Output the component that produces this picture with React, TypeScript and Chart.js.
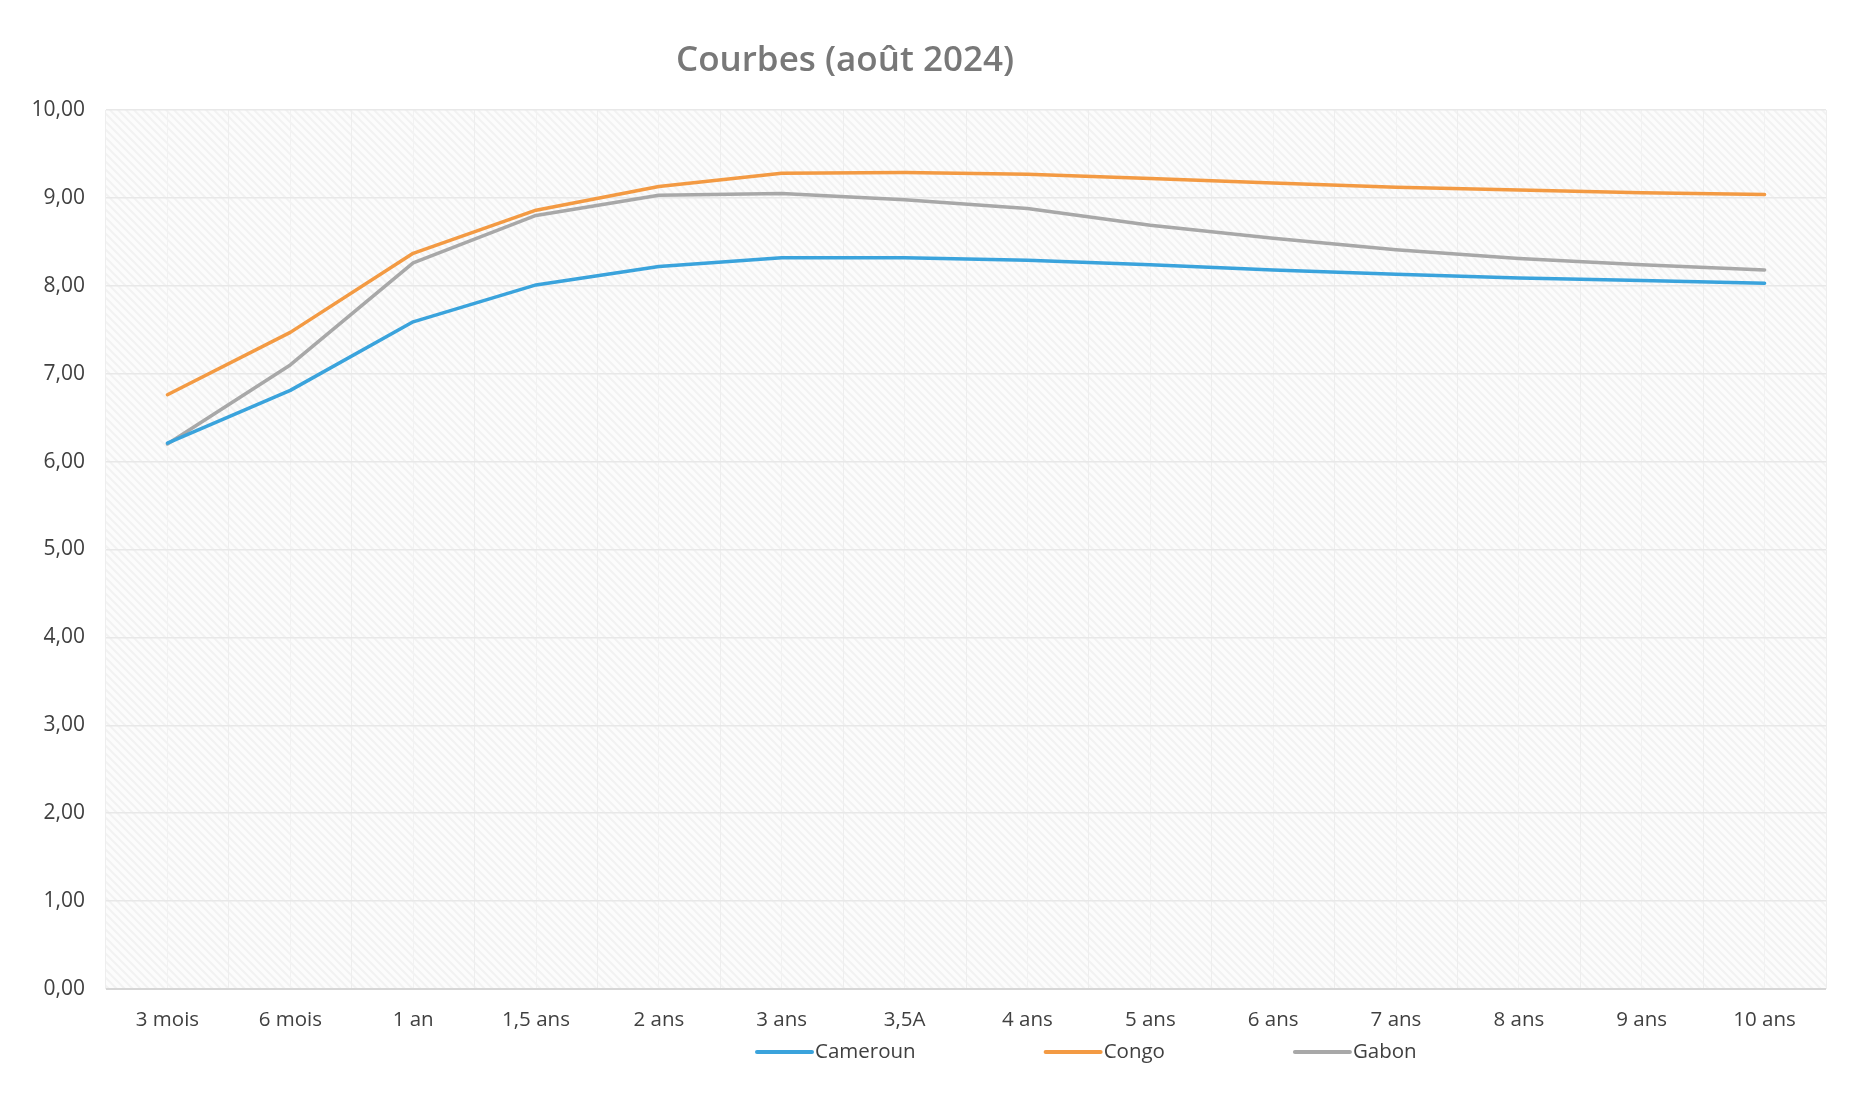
import { useEffect, useRef } from "react";
import { Chart, registerables } from "chart.js";

Chart.register(...registerables);

const categories = ["3 mois", "6 mois", "1 an", "1,5 ans", "2 ans", "3 ans", "3,5A", "4 ans", "5 ans", "6 ans", "7 ans", "8 ans", "9 ans", "10 ans"];
const cameroun = [6.21, 6.81, 7.59, 8.01, 8.22, 8.32, 8.32, 8.29, 8.24, 8.18, 8.13, 8.09, 8.06, 8.03];
const congo = [6.76, 7.47, 8.37, 8.86, 9.13, 9.28, 9.29, 9.27, 9.22, 9.17, 9.12, 9.09, 9.06, 9.04];
const gabon = [6.2, 7.1, 8.26, 8.8, 9.03, 9.05, 8.98, 8.88, 8.69, 8.54, 8.41, 8.31, 8.24, 8.18];
const seriesNames = ["Cameroun", "Congo", "Gabon"];
const seriesColors = ["#3aa3dc", "#f39a43", "#a8a8a8"];
const titleText = "Courbes (août 2024)";
const yMin = 0;
const yMax = 10;
const yStep = 1;

const FONT = "'Open Sans', 'Noto Sans', sans-serif";
const TEXT_COLOR = "#404040";

function makeHatch(): CanvasPattern | string {
  const p = document.createElement("canvas");
  p.width = 8;
  p.height = 8;
  const c = p.getContext("2d");
  if (!c) return "#f9f9f9";
  c.fillStyle = "#fcfcfc";
  c.fillRect(0, 0, 8, 8);
  c.strokeStyle = "#f2f2f2";
  c.lineWidth = 2;
  c.beginPath();
  c.moveTo(-1, -1);
  c.lineTo(9, 9);
  c.moveTo(-1, 7);
  c.lineTo(1, 9);
  c.moveTo(7, -1);
  c.lineTo(9, 1);
  c.stroke();
  const pat = c.createPattern(p, "repeat");
  return pat || "#f9f9f9";
}

const backgroundPlugin = {
  id: "plotBackground",
  beforeDraw(chart: any) {
    const { ctx, chartArea } = chart;
    ctx.save();
    ctx.fillStyle = "#ffffff";
    ctx.fillRect(0, 0, chart.width, chart.height);
    ctx.fillStyle = makeHatch();
    ctx.fillRect(chartArea.left, chartArea.top, chartArea.right - chartArea.left, chartArea.bottom - chartArea.top);
    ctx.restore();
  },
};

const titlePlugin = {
  id: "excelTitle",
  afterDraw(chart: any) {
    const { ctx } = chart;
    ctx.save();
    ctx.font = `600 35px ${FONT}`;
    ctx.fillStyle = "#787878";
    ctx.textAlign = "center";
    ctx.textBaseline = "middle";
    ctx.fillText(titleText, 845, 61);
    ctx.restore();
  },
};

const legendPlugin = {
  id: "excelLegend",
  afterDraw(chart: any) {
    const { ctx } = chart;
    ctx.save();
    ctx.font = `20.5px ${FONT}`;
    ctx.textAlign = "left";
    ctx.textBaseline = "middle";
    let x = 757;
    const y = 1052;
    chart.data.datasets.forEach((ds: any) => {
      ctx.strokeStyle = ds.borderColor;
      ctx.lineWidth = 4;
      ctx.lineCap = "round";
      ctx.beginPath();
      ctx.moveTo(x, y);
      ctx.lineTo(x + 55, y);
      ctx.stroke();
      ctx.fillStyle = TEXT_COLOR;
      ctx.fillText(ds.label, x + 58, y);
      x += 58 + ctx.measureText(ds.label).width + 130;
    });
    ctx.restore();
  },
};

export default function App() {
  const canvasRef = useRef<HTMLCanvasElement | null>(null);

  useEffect(() => {
    if (!canvasRef.current) return;
    const values = [cameroun, congo, gabon];
    const chart = new Chart(canvasRef.current, {
      type: "line",
      data: {
        labels: categories,
        datasets: values.map((v, i) => ({
          label: seriesNames[i],
          data: v,
          borderColor: seriesColors[i],
          backgroundColor: seriesColors[i],
          borderWidth: 3.5,
          pointRadius: 0,
          pointHoverRadius: 0,
          tension: 0,
          borderCapStyle: "round" as const,
          borderJoinStyle: "round" as const,
          fill: false,
        })),
      },
      options: {
        animation: false,
        responsive: true,
        maintainAspectRatio: false,
        layout: { padding: { top: 110, right: 27, bottom: 70, left: 0 } },
        plugins: {
          legend: { display: false },
          title: { display: false },
          tooltip: { enabled: false },
        },
        scales: {
          x: {
            type: "category",
            offset: true,
            grid: { offset: false, color: "#f2f2f2", lineWidth: 1, drawTicks: false },
            border: { display: false },
            ticks: {
              color: TEXT_COLOR,
              font: { family: FONT, size: 20.5 },
              padding: 19,
              maxRotation: 0,
              autoSkip: false,
            },
            afterFit: (s: any) => {
              s.height = 50;
            },
          },
          x2: {
            type: "category",
            labels: categories,
            position: "bottom",
            offset: true,
            grid: { offset: true, color: "#eeeeee", lineWidth: 1, drawTicks: false },
            border: { display: false },
            ticks: { display: false },
            afterFit: (s: any) => {
              s.height = 0;
            },
          },
          y: {
            min: yMin,
            max: yMax,
            ticks: {
              stepSize: yStep,
              color: TEXT_COLOR,
              font: { family: FONT, size: 21 },
              padding: 21,
              callback: (v: any) => Number(v).toFixed(2).replace(".", ","),
            },
            grid: {
              color: (c: any) => (c.tick && c.tick.value === 0 ? "#d6d6d6" : "#e8e8e8"),
              lineWidth: (c: any) => (c.tick && c.tick.value === 0 ? 2 : 1.5),
              drawTicks: false,
            },
            border: { display: false },
            afterFit: (s: any) => {
              s.width = 106;
            },
          },
        },
      },
      plugins: [backgroundPlugin, titlePlugin, legendPlugin],
    });
    return () => chart.destroy();
  }, []);

  return (
    <div style={{ position: "fixed", left: 0, top: 0, width: "1853px", height: "1109px", background: "#ffffff" }}>
      <canvas ref={canvasRef} />
    </div>
  );
}
